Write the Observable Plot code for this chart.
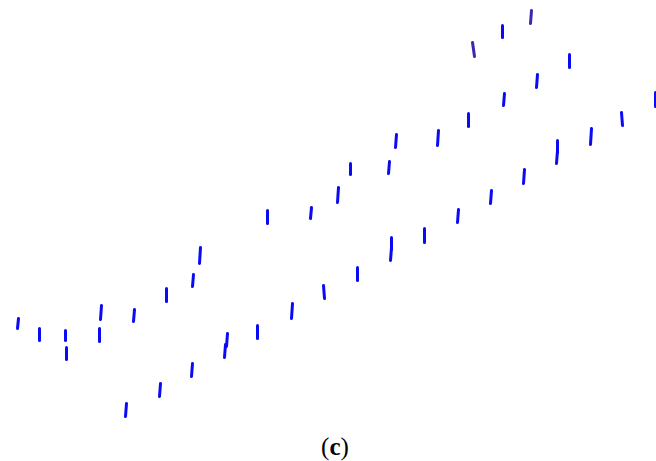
<!DOCTYPE html>
<html>
<head>
<meta charset="utf-8">
<script src="https://cdn.jsdelivr.net/npm/d3@7"></script>
<script src="https://cdn.jsdelivr.net/npm/@observablehq/plot@0.6"></script>
<style>
  html, body { margin: 0; padding: 0; background: #fff; }
  #chart svg { display: block; }
  #caption { width: 656px; text-align: center; font-family: "Liberation Serif", "DejaVu Serif", serif; font-size: 25px; line-height: 42px; padding-left: 14px; box-sizing: border-box; color: #000; }
</style>
</head>
<body>
<div id="chart"></div>
<div id="caption">(<b>c</b>)</div>
<script>
// Tick marks (x position, top and bottom of each tick, lean of the top end)
const tickX = [
  17, 39, 65, 66, 100, 99, 133, 166, 192, 199,
  125, 159, 191, 226, 224, 257, 291, 324, 357, 391, 390, 424, 457, 490, 523, 557, 556, 590, 622, 655,
  267, 310, 337, 350, 388, 395, 437, 468, 503, 536, 569,
  474, 502, 530
];
const tickTop = [
  318, 328, 330, 347, 305, 328, 309, 288, 274, 247,
  403, 383, 363, 333, 344, 325, 303, 285, 267, 237, 247, 228, 209, 190, 169, 140, 150, 128, 112, 92,
  210, 207, 187, 163, 161, 134, 130, 113, 93, 74, 54,
  42, 25, 10
];
const tickBottom = [
  328, 340, 340, 359, 319, 341, 321, 301, 286, 263,
  416, 396, 376, 346, 357, 338, 318, 298, 280, 249, 260, 242, 222, 203, 183, 152, 163, 144, 125, 106,
  223, 218, 202, 174, 173, 147, 145, 126, 105, 87, 67,
  56, 37, 23
];
const tickLean = [
  1, 0, 0, 0, 1, 0, 1, 0, 1, 1,
  1, 1, 1, 1, 1, 0, 1, -1, 0, 0, 1, 0, 1, 1, 1, 0, 1, 1, -1, 0,
  0, 1, 1, 0, 1, 1, 1, 0, 1, 1, 0,
  -2, 0, 1
];
const tickGroup = [
  ...Array(10).fill("a"),
  ...Array(20).fill("a"),
  ...Array(11).fill("a"),
  "b", "a", "b"
];

const ticks = tickX.map((x, i) => ({
  x1: x, y1: tickBottom[i],
  x2: x + tickLean[i], y2: tickTop[i],
  g: tickGroup[i]
}));

const W = 656, H = 426;
const plot = Plot.plot({
  width: W,
  height: H,
  margin: 0,
  x: { domain: [0, W], range: [0, W], axis: null },
  y: { domain: [0, H], range: [0, H], axis: null },
  color: { domain: ["a", "b"], range: ["#0a0af5", "#3a2aa8"] },
  marks: [
    Plot.link(ticks, {
      x1: "x1", y1: "y1", x2: "x2", y2: "y2",
      stroke: "g",
      strokeWidth: 3,
      strokeLinecap: "round"
    })
  ]
});
document.getElementById("chart").appendChild(plot);
</script>
</body>
</html>
